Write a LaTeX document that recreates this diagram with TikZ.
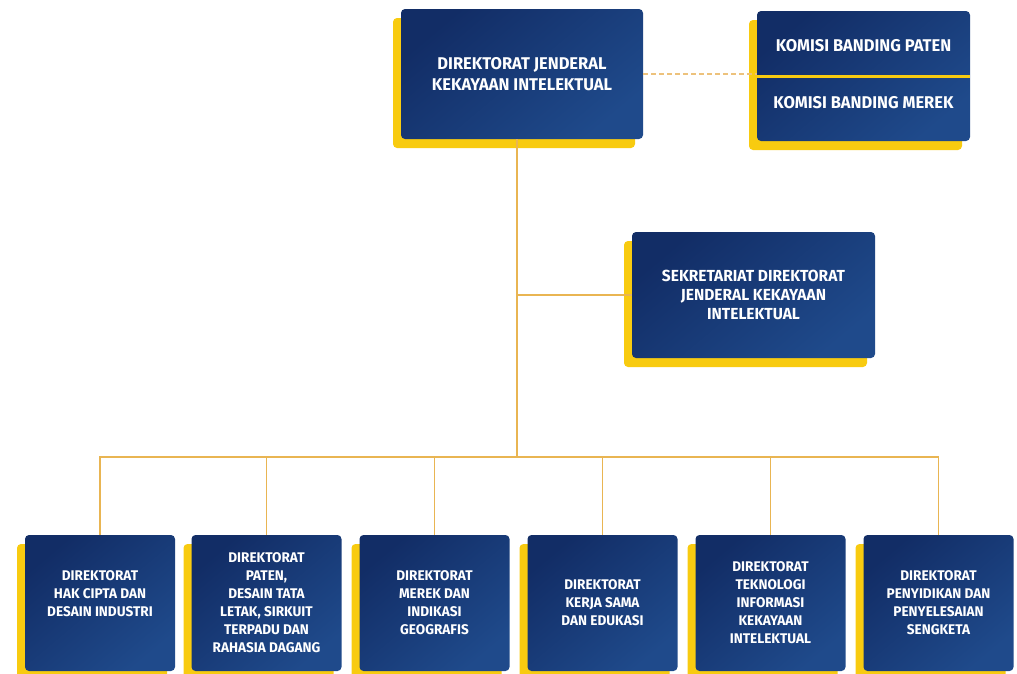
\documentclass[tikz,border=0pt]{standalone}
\usepackage{fontspec}
\setmainfont[FakeStretch=0.97]{Fira Sans}
\usepackage{tikz}
\usetikzlibrary{shadows}

\definecolor{navydark}{HTML}{122D66}
\definecolor{navylight}{HTML}{1F4A8B}
\definecolor{shadowyellow}{HTML}{F8CB10}
\definecolor{linegold}{HTML}{E9B552}
\definecolor{dashgold}{HTML}{EDC27C}

\tikzstyle{unit}=[rounded corners=4pt,top color=navydark,bottom color=navylight,shading angle=40,
  general shadow={fill=shadowyellow,shadow xshift=-8pt,shadow yshift=-9pt},
  text=white,align=center,inner sep=0pt]
\tikzstyle{topunit}=[unit,minimum width=242pt,minimum height=130pt,font=\bfseries\fontsize{17}{21}\selectfont]
\tikzstyle{dirunit}=[unit,minimum width=150pt,minimum height=136pt,font=\bfseries\fontsize{14}{18}\selectfont]
\tikzstyle{conn}=[draw=linegold,line width=1.8pt]
\tikzstyle{dashconn}=[draw=dashgold,line width=1.8pt,dash pattern=on 5pt off 3pt]

\begin{document}
\begin{tikzpicture}[x=1pt,y=-1pt]

\useasboundingbox (0,0) rectangle (1017,673);

%%% Direktorat Jenderal

\node [topunit] (djki) at (522,74)
{DIREKTORAT JENDERAL\\KEKAYAAN INTELEKTUAL};

%%% Komisi Banding

\node [topunit,minimum width=213pt] (komisi) at (863.5,76) {};

\node [text=white,font=\bfseries\fontsize{17}{21}\selectfont] (bandingpaten) at (863.5,46)
{KOMISI BANDING PATEN};

\node [text=white,font=\bfseries\fontsize{17}{21}\selectfont] (bandingmerek) at (863.5,103)
{KOMISI BANDING MEREK};

\draw [shadowyellow,line width=3pt] (komisi.west |- 0,76) -- (komisi.east |- 0,76);

%%% Sekretariat

\node [topunit,minimum width=243pt,minimum height=126pt,font=\bfseries\fontsize{16}{19}\selectfont] (sekr) at (753.5,295)
{SEKRETARIAT DIREKTORAT\\JENDERAL KEKAYAAN\\INTELEKTUAL};

%%% Direktorat row

\node [dirunit] (hakcipta) at (100,603)
{DIREKTORAT\\HAK CIPTA DAN\\DESAIN INDUSTRI\\\mbox{}};

\node [dirunit] (patendir) at (266.5,603)
{DIREKTORAT\\PATEN,\\DESAIN TATA\\LETAK, SIRKUIT\\TERPADU DAN\\RAHASIA DAGANG};

\node [dirunit] (merekgeo) at (434.5,603)
{DIREKTORAT\\MEREK DAN\\INDIKASI\\GEOGRAFIS};

\node [dirunit] (kerjasama) at (602.5,603)
{DIREKTORAT\\KERJA SAMA\\DAN EDUKASI};

\node [dirunit] (teknologi) at (770.5,603)
{DIREKTORAT\\TEKNOLOGI\\INFORMASI\\KEKAYAAN\\INTELEKTUAL};

\node [dirunit] (sengketa) at (938.5,603)
{DIREKTORAT\\PENYIDIKAN DAN\\PENYELESAIAN\\SENGKETA};

%%% Lines

\coordinate (bus) at (517,457);

\draw [conn] (djki.south -| bus) -- (bus);

\draw [conn] (bus |- sekr.west) -- (sekr.west);

\draw [dashconn] (djki.east) -- (djki.east -| komisi.west);

\draw [conn] (hakcipta.north) -- (hakcipta.north |- bus) -- (sengketa.north |- bus) -- (sengketa.north);

\draw [conn] (patendir.north) -- (patendir.north |- bus);
\draw [conn] (merekgeo.north) -- (merekgeo.north |- bus);
\draw [conn] (kerjasama.north) -- (kerjasama.north |- bus);
\draw [conn] (teknologi.north) -- (teknologi.north |- bus);

\end{tikzpicture}
\end{document}
